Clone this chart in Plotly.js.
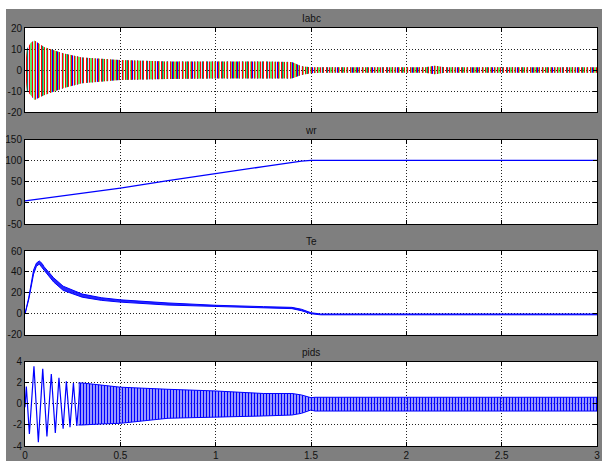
<!DOCTYPE html>
<html><head><meta charset="utf-8">
<script src="https://cdn.plot.ly/plotly-3.0.1.min.js"></script>
<style>
html,body{margin:0;padding:0;background:#fff;width:604px;height:461px;overflow:hidden}
#chart{position:absolute;left:6px;top:9px;width:596px;height:452px}
</style>
</head><body><div id="chart"></div>
<script>
// ---- Iabc envelope (three phases overlap in a dense band) ----
const iabcT     = [0, 0.01, 0.03, 0.05, 0.1, 0.2, 0.3, 0.5, 0.75, 1.0, 1.25, 1.4, 1.45, 1.5, 1.55, 2.1, 2.15, 2.2, 3.0];
const iabcUpper = [1, 10, 13, 14, 11, 8, 6, 4.8, 4, 4, 4, 3.8, 1.8, 1.3, 1.3, 1.3, 2.0, 1.3, 1.3];
const iabcLower = [-1, -10, -12, -14.3, -12, -8.7, -6.3, -4.8, -4.3, -4, -4, -4, -2.4, -1.5, -1.3, -1.3, -2.0, -1.3, -1.3];

// ---- wr ----
const wrT = [0, 0.1, 0.25, 0.5, 0.75, 1.0, 1.25, 1.45, 1.48, 1.5, 3.0];
const wrV = [5, 11.3, 20, 35.3, 53, 70.6, 86.6, 99.5, 101, 101.5, 101.5];

// ---- Te (thick noisy trace: upper / lower edges) ----
const teT     = [0, 0.02, 0.045, 0.06, 0.075, 0.09, 0.1, 0.15, 0.2, 0.3, 0.4, 0.5, 0.75, 1.0, 1.25, 1.4, 1.45, 1.5, 1.55, 2.0, 3.0];
const teUpper = [0, 16, 42, 48.5, 50.5, 48, 45, 34.5, 26.5, 19, 15.5, 13.5, 10.5, 8.3, 7, 6.3, 4.5, 1.2, 0, 0, 0];
const teLower = [0, 14, 38, 45.5, 47.5, 44, 41, 30.5, 22.5, 16, 13, 11.3, 8.5, 6.9, 5.8, 5.1, 3.1, 0.2, -0.8, -0.8, -0.8];

// ---- pids: resolved early swings, then dense band ----
const pidsEarlyT = [0, 0.007, 0.023, 0.047, 0.07, 0.093, 0.115, 0.138, 0.159, 0.178, 0.2, 0.217, 0.236, 0.254, 0.272, 0.29];
const pidsEarlyV = [-0.3, 1.65, -2.85, 3.6, -3.65, 3.35, -3.1, 2.85, -2.75, 2.5, -2.35, 2.15, -2.2, 2.0, -2.1, 2.0];
const pidsT     = [0.28, 0.3, 0.4, 0.5, 0.75, 1.0, 1.25, 1.4, 1.45, 1.5, 1.52, 3.0];
const pidsUpper = [2.0, 2.0, 1.8, 1.6, 1.4, 1.24, 1.0, 1.0, 0.86, 0.6, 0.64, 0.64];
const pidsLower = [-2.0, -2.0, -1.9, -1.84, -1.36, -1.27, -1.14, -1.05, -0.89, -0.57, -0.67, -0.67];

// ---- ticks ----
const xTicks = [0, 0.5, 1, 1.5, 2, 2.5, 3];
const xTickText = ['0', '0.5', '1', '1.5', '2', '2.5', '3'];
const iabcTicks = [-20, -10, 0, 10, 20];
const iabcTickText = ['-20', '-10', '0', '10', '20'];
const wrTicks = [-50, 0, 50, 100, 150];
const wrTickText = ['-50', '0', '50', '100', '150'];
const teTicks = [-20, 0, 20, 40, 60];
const teTickText = ['-20', '0', '20', '40', '60'];
const pidsTicks = [-4, -2, 0, 2, 4];
const pidsTickText = ['-4', '-2', '0', '2', '4'];
const titles = ['Iabc', 'wr', 'Te', 'pids'];

function poly(t, up, lo) {
  return { x: t.concat(t.slice().reverse()), y: up.concat(lo.slice().reverse()) };
}
const FONT = 'Liberation Sans Narrow, Liberation Sans, Arial, sans-serif';
const BLUE = '#0000ff';

const ib = poly(iabcT, iabcUpper, iabcLower);
const tb = poly(teT, teUpper, teLower);
const pb = poly(pidsT, pidsUpper, pidsLower);

function patBand(p, ax, col, size, sol, bg) {
  return { x: p.x, y: p.y, xaxis: ax[0], yaxis: ax[1], type: 'scatter', mode: 'none',
    fill: 'toself', fillcolor: 'rgba(0,0,0,0)', hoverinfo: 'skip',
    fillpattern: { shape: '|', fgcolor: col, bgcolor: bg || 'rgba(0,0,0,0)', size: size, solidity: sol, fillmode: 'replace' } };
}

const data = [
  patBand(ib, ['x', 'y'], '#0000ff', 5, 0.25),
  patBand(ib, ['x', 'y'], '#00dd00', 4, 0.3),
  patBand(ib, ['x', 'y'], '#ff0000', 3, 0.35),
  { x: wrT, y: wrV, xaxis: 'x2', yaxis: 'y2', type: 'scatter', mode: 'lines', line: { color: BLUE, width: 1.3 } },
  { x: tb.x, y: tb.y, xaxis: 'x3', yaxis: 'y3', type: 'scatter', mode: 'lines', fill: 'toself',
    fillcolor: 'rgba(0,0,255,0.85)', line: { color: BLUE, width: 1 } },
  patBand(pb, ['x4', 'y4'], BLUE, 3, 0.5, 'rgba(150,150,255,0.55)'),
  { x: pidsT, y: pidsUpper, xaxis: 'x4', yaxis: 'y4', type: 'scatter', mode: 'lines', line: { color: BLUE, width: 1 } },
  { x: pidsT, y: pidsLower, xaxis: 'x4', yaxis: 'y4', type: 'scatter', mode: 'lines', line: { color: BLUE, width: 1 } },
  { x: pidsEarlyT, y: pidsEarlyV, xaxis: 'x4', yaxis: 'y4', type: 'scatter', mode: 'lines', line: { color: BLUE, width: 1.2 } }
];

const common = {
  showline: true, linecolor: '#000', linewidth: 1, mirror: 'ticks',
  ticks: 'inside', ticklen: 4, tickcolor: '#000', tickwidth: 1,
  showgrid: true, gridcolor: '#222', gridwidth: 1, griddash: '1px,2px',
  zeroline: false, tickfont: { family: FONT, size: 10, color: '#111' }, fixedrange: true
};
function xa(anchor, labels) {
  return Object.assign({}, common, { anchor: anchor, range: [0, 3], tickmode: 'array', tickvals: xTicks,
    ticktext: xTickText, showticklabels: labels });
}
function ya(anchor, dom, rng, tv, tt) {
  return Object.assign({}, common, { anchor: anchor, domain: dom, range: rng, tickmode: 'array', tickvals: tv, ticktext: tt });
}
const doms = [[0.7990, 1], [0.5311, 0.7321], [0.2656, 0.4665], [0, 0.2010]];
const yrefs = ['y', 'y2', 'y3', 'y4'];

const layout = {
  width: 596, height: 452,
  margin: { l: 19, r: 5, t: 19, b: 15 },
  paper_bgcolor: '#7f7f7f', plot_bgcolor: '#ffffff',
  showlegend: false,
  xaxis: xa('y', false), xaxis2: xa('y2', false), xaxis3: xa('y3', false), xaxis4: xa('y4', true),
  yaxis: ya('x', doms[0], [-20, 20], iabcTicks, iabcTickText),
  yaxis2: ya('x2', doms[1], [-50, 150], wrTicks, wrTickText),
  yaxis3: ya('x3', doms[2], [-20, 60], teTicks, teTickText),
  yaxis4: ya('x4', doms[3], [-4, 4], pidsTicks, pidsTickText),
  annotations: titles.map((t, i) => ({
    text: t, xref: 'paper', x: 0.5, yref: yrefs[i] + ' domain', y: 1, yanchor: 'bottom', yshift: 2,
    showarrow: false, font: { family: FONT, size: 10, color: '#111' }
  }))
};

Plotly.newPlot('chart', data, layout, { staticPlot: true, displayModeBar: false });
</script>
</body></html>
